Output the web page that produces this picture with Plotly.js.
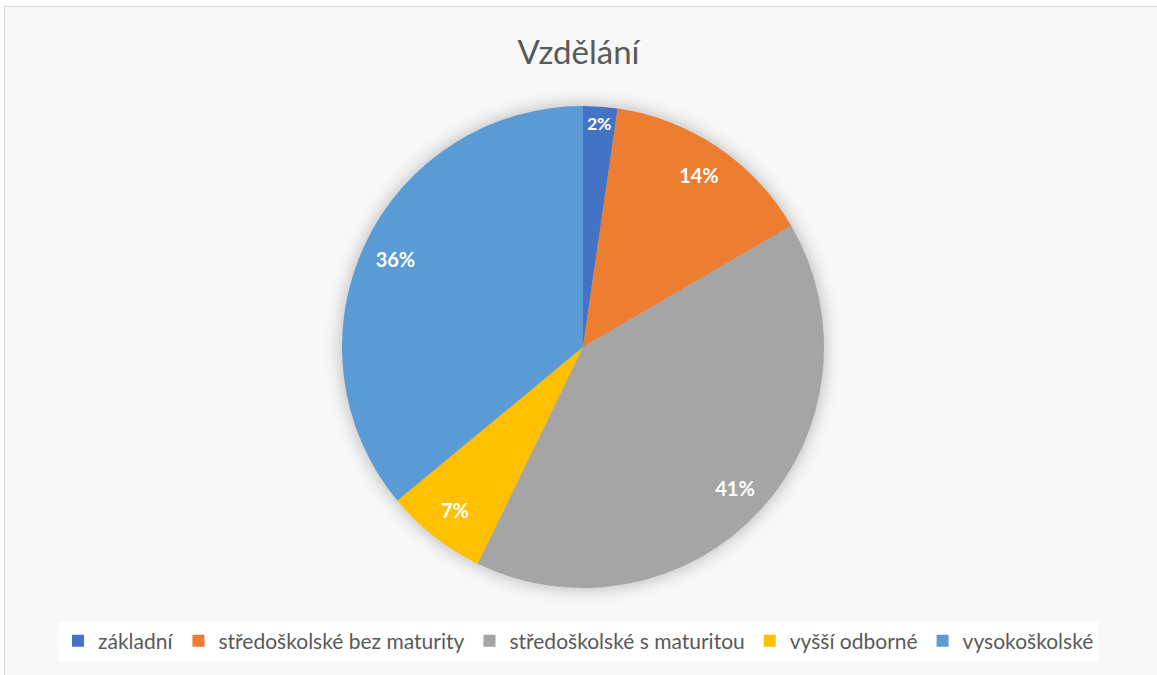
<!DOCTYPE html>
<html>
<head>
<meta charset="utf-8">
<script src="https://cdn.plot.ly/plotly-3.0.1.min.js"></script>
<style>
  html, body { margin: 0; padding: 0; background: #ffffff; overflow: hidden; }
  #frame { position: absolute; left: 4px; top: 6px; width: 1170px; height: 690px; border: 1px solid #d9d9d9; background: #f8f8f8; }
  #chart { position: absolute; left: -5px; top: -7px; width: 1157px; height: 675px; }
  .pielayer .trace:first-child { filter: drop-shadow(0px 0px 9px rgba(0,0,0,0.28)); }
</style>
</head>
<body>
<div id="frame"><div id="chart"></div></div>
<script>
const categories = ["základní", "středoškolské bez maturity", "středoškolské s maturitou", "vyšší odborné", "vysokoškolské"];
const values = [2.3, 14.3, 40.6, 6.8, 36.0];
const colors = ["#4472C4", "#ED7D31", "#A5A5A5", "#FFC000", "#5B9BD5"];
const chartTitle = "Vzdělání";

const W = 1157, H = 675;
const cx = 583, cy = 347, R = 241;
const dom = { x: [(cx - R) / W, (cx + R) / W], y: [(H - cy - R) / H, (H - cy + R) / H] };

// Filled slices
const slices = {
  type: "pie",
  labels: categories,
  values: values,
  sort: false,
  direction: "clockwise",
  rotation: 0,
  marker: { colors: colors, line: { width: 0 } },
  textinfo: "none",
  hoverinfo: "label+percent",
  domain: dom
};

// Transparent ring over the same slices, so that the percentage labels sit near the rim
const labelsRing = {
  type: "pie",
  labels: categories,
  values: values,
  sort: false,
  direction: "clockwise",
  rotation: 0,
  hole: 0.72,
  showlegend: false,
  marker: { colors: categories.map(() => "rgba(0,0,0,0)"), line: { width: 0 } },
  texttemplate: "%{percent:.0%}",
  textposition: "inside",
  insidetextorientation: "horizontal",
  textfont: { family: "Lato, sans-serif", size: 20, color: "#ffffff", weight: "bold" },
  hoverinfo: "skip",
  domain: dom
};

const layout = {
  width: W, height: H,
  margin: { l: 0, r: 0, t: 0, b: 0 },
  paper_bgcolor: "rgba(0,0,0,0)",
  plot_bgcolor: "rgba(0,0,0,0)",
  font: { family: "Lato, sans-serif", color: "#595959" },
  title: { text: chartTitle, font: { family: "Lato, sans-serif", size: 33, color: "#595959" }, x: 0.5, xanchor: "center", y: 1 - 52 / H, yanchor: "middle", yref: "container" },
  showlegend: true,
  legend: { orientation: "h", x: 0.5, xanchor: "center", y: (H - 641) / H, yanchor: "middle", bgcolor: "#ffffff", font: { family: "Lato, sans-serif", size: 21, color: "#595959" }, itemwidth: 30, tracegroupgap: 0 }
};

Plotly.newPlot("chart", [slices, labelsRing], layout, { displayModeBar: false, staticPlot: true });
</script>
</body>
</html>
